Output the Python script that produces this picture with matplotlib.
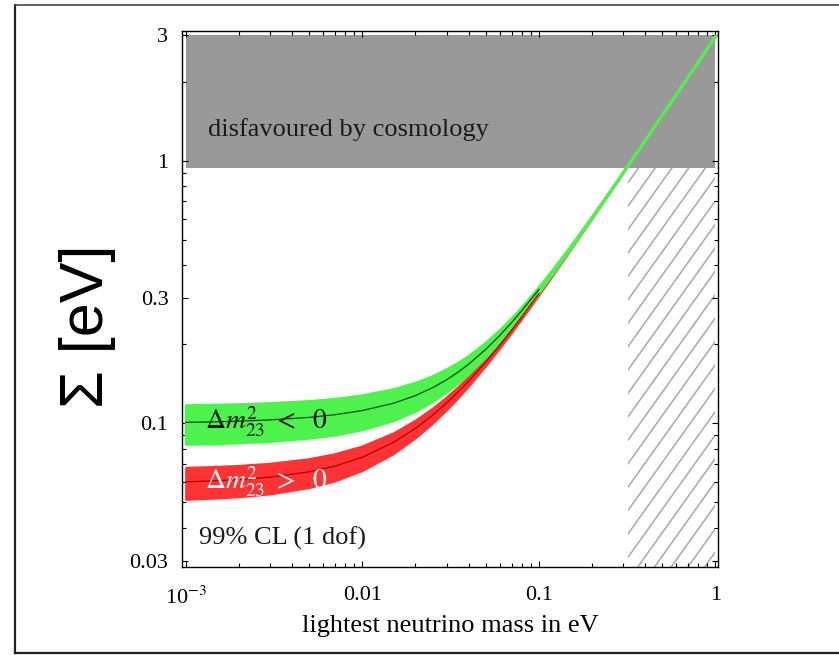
import numpy as np
import matplotlib.pyplot as plt
from matplotlib.lines import Line2D
from matplotlib.collections import LineCollection
from matplotlib.ticker import FixedLocator, LogLocator, NullFormatter

plt.rcParams['font.family'] = ['Liberation Serif', 'DejaVu Serif']
plt.rcParams['mathtext.fontset'] = 'stix'

# lightest neutrino mass (eV) and sum of masses (eV)
m_light = np.array([0.001, 0.0015, 0.002, 0.003, 0.005, 0.007, 0.01, 0.015, 0.02, 0.025,
                    0.03, 0.035, 0.04, 0.05, 0.06, 0.07, 0.08, 0.1, 0.12, 0.15, 0.2,
                    0.25, 0.3, 0.4, 0.5, 0.7, 1.0])

# inverted hierarchy (dm23^2 < 0), green
inv_lo = np.array([0.0835, 0.0840, 0.0846, 0.0857, 0.0881, 0.0906, 0.0949, 0.1027, 0.1117,
                   0.1214, 0.1320, 0.1432, 0.1549, 0.1796, 0.2056, 0.2325, 0.2600, 0.3163,
                   0.3738, 0.4611, 0.6084, 0.7568, 0.9056, 1.2042, 1.5034, 2.1024, 3.0017])
inv_mid = np.array([0.1009, 0.1014, 0.1020, 0.1031, 0.1054, 0.1079, 0.1119, 0.1193, 0.1276,
                    0.1367, 0.1465, 0.1570, 0.1680, 0.1914, 0.2161, 0.2420, 0.2686, 0.3236,
                    0.3800, 0.4662, 0.6123, 0.7599, 0.9083, 1.2062, 1.5050, 2.1036, 3.0025])
inv_hi = np.array([0.1174, 0.1179, 0.1185, 0.1196, 0.1218, 0.1242, 0.1281, 0.1352, 0.1431,
                   0.1517, 0.1610, 0.1708, 0.1812, 0.2035, 0.2272, 0.2521, 0.2779, 0.3314,
                   0.3867, 0.4718, 0.6166, 0.7634, 0.9112, 1.2084, 1.5068, 2.1048, 3.0034])

# normal hierarchy (dm23^2 > 0), red
nor_lo = np.array([0.0514, 0.0520, 0.0526, 0.0539, 0.0570, 0.0604, 0.0662, 0.0767, 0.0882,
                   0.1002, 0.1127, 0.1256, 0.1388, 0.1660, 0.1938, 0.2221, 0.2508, 0.3088,
                   0.3674, 0.4560, 0.6045, 0.7536, 0.9030, 1.2023, 1.5018, 2.1013, 3.0009])
nor_mid = np.array([0.0599, 0.0605, 0.0611, 0.0624, 0.0654, 0.0687, 0.0743, 0.0846, 0.0957,
                    0.1074, 0.1195, 0.1321, 0.1449, 0.1714, 0.1987, 0.2265, 0.2548, 0.3122,
                    0.3703, 0.4583, 0.6063, 0.7551, 0.9043, 1.2032, 1.5026, 2.1018, 3.0013])
nor_hi = np.array([0.0680, 0.0686, 0.0692, 0.0705, 0.0734, 0.0767, 0.0821, 0.0921, 0.1030,
                   0.1144, 0.1263, 0.1385, 0.1511, 0.1771, 0.2038, 0.2312, 0.2591, 0.3158,
                   0.3734, 0.4609, 0.6083, 0.7567, 0.9056, 1.2042, 1.5034, 2.1024, 3.0017])

# excluded regions
cosmo_x = [0.001, 1.0]
cosmo_lo, cosmo_hi = 0.94, 3.0
hatch_x = [0.32, 1.0]
hatch_lo, hatch_hi = 0.0284, 0.94

x_ticks = [0.001, 0.01, 0.1, 1]
x_ticklabels = [r'10$^{-3}$', '0.01', '0.1', '1']
y_ticks = [0.03, 0.1, 0.3, 1, 3]
y_ticklabels = ['0.03', '0.1', '0.3', '1', '3']

fig = plt.figure(figsize=(8.39, 6.55), dpi=100)
ax = fig.add_axes([0.2173, 0.1344, 0.6388, 0.8183])
ax.set_xscale('log')
ax.set_yscale('log')
ax.set_xlim(0.000957, 1.037)
ax.set_ylim(0.0284, 3.12)

ax.fill_between(cosmo_x, cosmo_lo, cosmo_hi, color='#999999', lw=0, zorder=1)

# hatched region: slanted lines clipped to the region
hatch_area = ax.fill_between(hatch_x, hatch_lo, hatch_hi, facecolor='none', lw=0, zorder=1)
step, slope = 0.0312, 1.4
segs = [[(x0, -0.1), (x0 + 1.2 / slope, 1.1)] for x0 in np.arange(-1.0, 1.2, step)]
hatch_lines = LineCollection(segs, transform=ax.transAxes, colors='#a8a8a8', lw=1.1, zorder=1)
ax.add_collection(hatch_lines)
hatch_lines.set_clip_path(hatch_area.get_paths()[0], ax.transData)
hatch_lines.set_clip_box(ax.bbox)

ax.fill_between(m_light, nor_lo, nor_hi, facecolor='#ff3333', edgecolor='#ff3333',
                lw=1.5, zorder=2)
ax.fill_between(m_light, inv_lo, inv_hi, facecolor='#4df24d', edgecolor='#4df24d',
                lw=2.0, zorder=3)
low = m_light <= 0.1
ax.plot(m_light[low], nor_mid[low], color='#b00000', lw=0.9, zorder=4)
ax.plot(m_light[low], inv_mid[low], color='#0b4a0b', lw=0.9, zorder=4)

ax.text(0.00134, 1.31, 'disfavoured by cosmology', fontsize=19, color='#1a1a1a',
        ha='left', va='center', zorder=5)
ax.text(0.00128, 0.101, r'$\Delta m^{\mathit{2}}_{\mathit{23}}\ <\ \ 0$', fontsize=20,
        color='#111111', ha='left', va='center', zorder=5)
ax.text(0.00128, 0.0600, r'$\Delta m^{\mathit{2}}_{\mathit{23}}\ >\ \ 0$', fontsize=20,
        color='white', ha='left', va='center', zorder=5)
ax.text(0.00119, 0.0366, '99% CL (1 dof)', fontsize=19, color='#1a1a1a',
        ha='left', va='center', zorder=5)

ax.xaxis.set_major_locator(FixedLocator(x_ticks))
ax.xaxis.set_ticklabels(x_ticklabels)
ax.xaxis.set_minor_locator(LogLocator(base=10, subs=np.arange(2, 10), numticks=20))
ax.xaxis.set_minor_formatter(NullFormatter())
ax.yaxis.set_major_locator(FixedLocator(y_ticks))
ax.yaxis.set_ticklabels(y_ticklabels)
ax.yaxis.set_minor_locator(LogLocator(base=10, subs=np.arange(1, 10), numticks=20))
ax.yaxis.set_minor_formatter(NullFormatter())

ax.tick_params(which='both', direction='in', top=True, right=True, width=0.8)
ax.tick_params(which='major', length=4.5, labelsize=16)
ax.tick_params(axis='x', which='major', pad=14)
ax.tick_params(axis='y', which='major', pad=10)
ax.tick_params(which='minor', length=2.8)
for s in ax.spines.values():
    s.set_linewidth(1.0)

fig.text(87 / 839, 1 - 326 / 655, 'Σ [eV]', rotation=90, fontsize=44,
         family='Liberation Sans', ha='center', va='center')
fig.text(450 / 839, 1 - 626 / 655, 'lightest neutrino mass in eV', fontsize=19,
         ha='center', va='center')

# slide frame
fig.add_artist(Line2D([15 / 839, 15 / 839], [1 - 5 / 655, 1 - 653 / 655],
                      color='#222222', lw=1.6))
fig.add_artist(Line2D([15 / 839, 1.0], [1 - 5 / 655, 1 - 5 / 655],
                      color='#444444', lw=1.2))
fig.add_artist(Line2D([15 / 839, 1.0], [1 - 653 / 655, 1 - 653 / 655],
                      color='#222222', lw=1.6))

fig.savefig('out.png', dpi=100)
